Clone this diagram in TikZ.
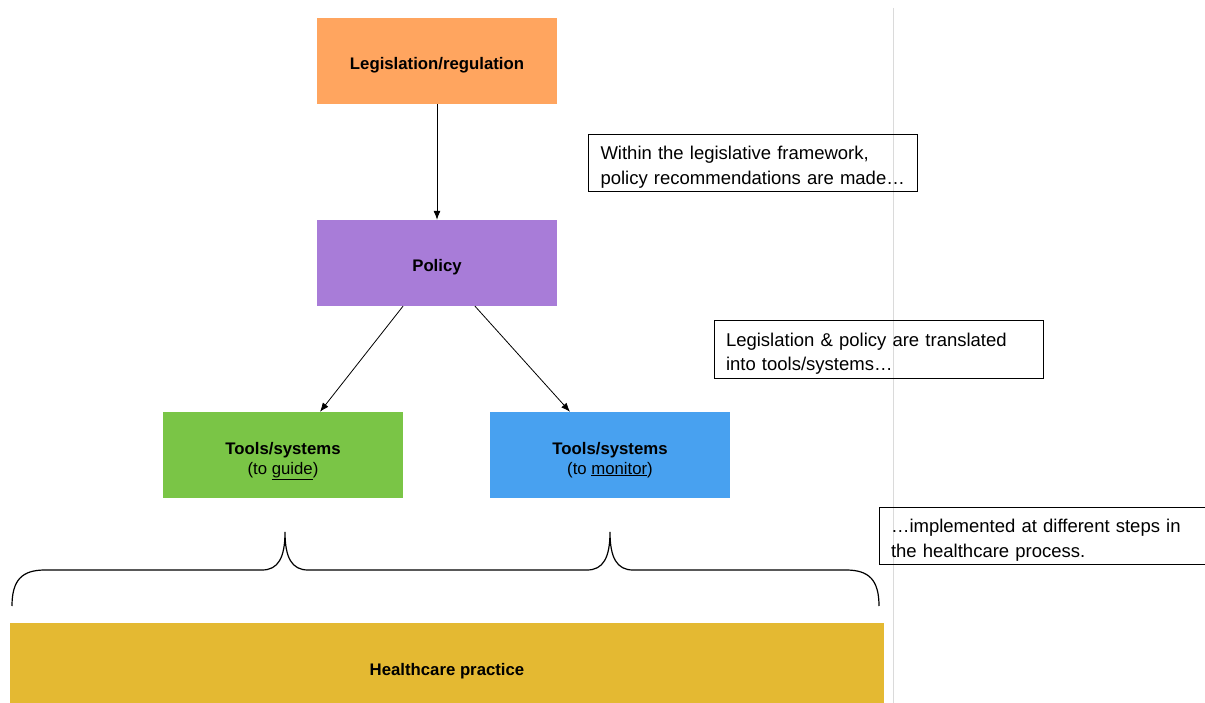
\documentclass[tikz,border=0pt]{standalone}
\usepackage{fontspec}
\setmainfont{Liberation Sans}
\usetikzlibrary{arrows.meta,calc}
\definecolor{legis}{RGB}{255,165,95}
\definecolor{polc}{RGB}{168,124,216}
\definecolor{guidec}{RGB}{122,197,70}
\definecolor{monc}{RGB}{72,161,240}
\definecolor{healthc}{RGB}{228,185,50}
\definecolor{sepline}{RGB}{218,218,218}
\newcommand{\boxtext}[1]{\raisebox{-5pt}[\height][\depth]{\begin{tabular}{@{}c@{}}#1\end{tabular}}}
\newcommand{\notetext}[1]{\raisebox{-4pt}[\height][\depth]{\begin{tabular}{@{}l@{}}#1\end{tabular}}}
\begin{document}
\begin{tikzpicture}[x=1pt,y=-1pt,
  colbox/.style={minimum width=240pt,minimum height=86pt,inner sep=0pt,font=\fontsize{16.75}{20}\selectfont},
  notebox/.style={draw=black,line width=1pt,inner xsep=12pt,inner ysep=0pt,text width=305pt,minimum height=57pt,align=left,font=\fontsize{18.5}{24.5}\selectfont},
  arr/.style={draw=black,line width=0.8pt,-{Latex[length=9pt,width=7pt]}},
  bracestyle/.style={draw=black,line width=1.2pt}
]
\useasboundingbox (0,0) rectangle (1205,703);
\fill[white] (0,0) rectangle (1205,703);
\draw[sepline,line width=0.8pt] (893,8) -- (893,703);

\node[colbox,fill=legis] (leg) at (437,61) {\boxtext{\textbf{Legislation/regulation}}};
\node[colbox,fill=polc] (pol) at (437,263) {\boxtext{\textbf{Policy}}};
\node[colbox,fill=guidec] (guide) at (283,455) {\boxtext{\textbf{Tools/systems}\\(to \underline{guide})}};
\node[colbox,fill=monc] (mon) at (610,455) {\boxtext{\textbf{Tools/systems}\\(to \underline{monitor})}};
\node[colbox,minimum width=874pt,fill=healthc] (health) at (447,666) {\boxtext{\textbf{Healthcare practice}}};

\node[notebox] (n1) at (753,163) {\notetext{Within the legislative framework,\\policy recommendations are made…}};
\node[notebox] (n2) at (878.5,349.5) {\notetext{Legislation \& policy are translated\\into tools/systems…}};
\node[notebox] (n3) at (1043.5,536) {\notetext{…implemented at different steps in\\the healthcare process.}};

\draw[arr] (leg.south) -- (pol.north);
\draw[arr] ($(pol.south)+(-34,0)$) -- ($(guide.north)+(37,0)$);
\draw[arr] ($(pol.south)+(38,0)$) -- ($(mon.north)+(-40,0)$);

\draw[bracestyle] (12,606) .. controls (12,580) and (22,570) .. (45,570)
  -- (262,570) .. controls (278,570) and (285,558) .. (285,532)
  .. controls (285,558) and (292,570) .. (308,570)
  -- (587,570) .. controls (603,570) and (610,558) .. (610,532)
  .. controls (610,558) and (617,570) .. (633,570)
  -- (846,570) .. controls (869,570) and (879,580) .. (879,606);
\end{tikzpicture}
\end{document}
